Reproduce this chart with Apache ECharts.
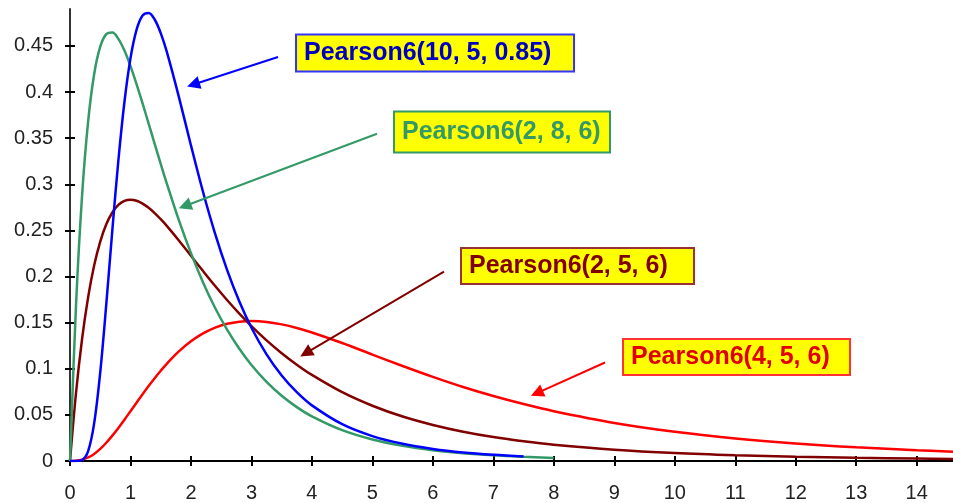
<!DOCTYPE html>
<html><head><meta charset="utf-8">
<script src="https://cdn.jsdelivr.net/npm/echarts@6/dist/echarts.min.js"></script>
<style>html,body{margin:0;padding:0;background:#fff}#c{width:953px;height:503px}</style>
</head><body><div id="c"></div>
<script>
// x positions of the sampled points
const xValues = [0,0.1,0.2,0.3,0.4,0.5,0.6,0.7,0.8,0.9,1,1.1,1.2,1.3,1.4,1.5,1.6,1.8,2,2.2,2.4,2.6,2.8,3,3.25,3.5,3.75,4,4.5,5,5.5,6,6.5,7,7.5,8,9,10,11,12,13,14,14.6];
// Pearson6(10, 5, 0.85) - blue, ends at 7.5
const blueValues = [0,0,0.0011,0.0107,0.0410,0.0962,0.1700,0.2503,0.3259,0.3892,0.4365,0.4673,0.4829,0.4857,0.4786,0.4638,0.4437,0.3947,0.3421,0.2916,0.2462,0.2066,0.1728,0.1445,0.1156,0.0927,0.0746,0.0603,0.0399,0.0270,0.0186,0.0131,0.0093,0.0068,0.0050];
// Pearson6(2, 8, 6) - green, ends at 8
const greenValues = [0,0.1695,0.2882,0.3683,0.4196,0.4491,0.4627,0.4644,0.4576,0.4449,0.4281,0.4086,0.3876,0.3658,0.3438,0.3221,0.3010,0.2611,0.2253,0.1936,0.1659,0.1421,0.1216,0.1040,0.0857,0.0707,0.0584,0.0484,0.0334,0.0233,0.0164,0.0117,0.0084,0.0061,0.0045,0.0033];
// Pearson6(2, 5, 6) - dark red
const darkRedValues = [0,0.0742,0.1325,0.1777,0.2122,0.2379,0.2566,0.2694,0.2776,0.2820,0.2833,0.2821,0.2791,0.2745,0.2688,0.2621,0.2549,0.2391,0.2225,0.2059,0.1897,0.1743,0.1598,0.1463,0.1308,0.1169,0.1044,0.0933,0.0746,0.0599,0.0482,0.0391,0.0318,0.0260,0.0214,0.0177,0.0123,0.0087,0.0063,0.0046,0.0034,0.0026,0.0022];
// Pearson6(4, 5, 6) - red
const redValues = [0,0.0002,0.0013,0.0038,0.0077,0.0131,0.0198,0.0275,0.0359,0.0448,0.0540,0.0632,0.0724,0.0813,0.0898,0.0979,0.1054,0.1188,0.1298,0.1383,0.1446,0.1487,0.1510,0.1517,0.1508,0.1481,0.1442,0.1393,0.1279,0.1154,0.1030,0.0912,0.0802,0.0704,0.0617,0.0540,0.0413,0.0317,0.0245,0.0190,0.0148,0.0117,0.0101];

const xTicks = [0,1,2,3,4,5,6,7,8,9,10,11,12,13,14];
const yTicks = [0,0.05,0.1,0.15,0.2,0.25,0.3,0.35,0.4,0.45];
const seriesNames = ['Pearson6(4, 5, 6)','Pearson6(2, 5, 6)','Pearson6(2, 8, 6)','Pearson6(10, 5, 0.85)'];

const FONT = "'Liberation Sans', Arial, sans-serif";
function pairs(ys){ return ys.map((y,i)=>[xValues[i], y]); }

function makeSeries(name, values, color, textColor, borderColor, arrowFrom, arrowTo, boxCenter, boxSize){
  return {
    name: name, type: 'line', data: pairs(values), showSymbol: false, symbol: 'none',
    smooth: 0.35,
    lineStyle: {color: color, width: 2.5}, itemStyle: {color: color},
    silent: true,
    markLine: {
      silent: true, animation: false,
      symbol: ['none','triangle'], symbolSize: 13,
      lineStyle: {color: color, width: 2, type: 'solid'},
      label: {show: false},
      data: [[{coord: arrowFrom}, {coord: arrowTo}]]
    },
    markPoint: {
      silent: true, animation: false,
      data: [{
        coord: boxCenter, symbol: 'rect', symbolSize: 1,
        itemStyle: {color: 'rgba(0,0,0,0)'},
        label: {show: true, position: 'inside', align: 'left', verticalAlign: 'middle',
          offset: [-boxSize[0]/2 + 2, 0],
          width: boxSize[0] - 16, height: boxSize[1] - 3, lineHeight: boxSize[1] - 3,
          padding: [0, 7, 0, 7],
          backgroundColor: '#ffff00', borderColor: borderColor, borderWidth: 2,
          formatter: name,
          color: textColor, fontSize: 25, fontWeight: 'bold', fontFamily: FONT}
      }]
    }
  };
}

const chart = echarts.init(document.getElementById('c'), null, {renderer: 'canvas'});
const axisFont = {fontSize: 20, color: '#222', fontFamily: FONT};
chart.setOption({
  animation: false,
  backgroundColor: '#ffffff',
  grid: {left: 70, right: 0, top: 9, bottom: 41.3, containLabel: false},
  xAxis: [
    {type: 'value', min: 0, max: 14.6, position: 'bottom',
     axisLine: {show: true, onZero: false, lineStyle: {color: '#000', width: 2}},
     axisTick: {show: true, length: 5, customValues: xTicks, lineStyle: {color: '#000', width: 2}},
     axisLabel: Object.assign({customValues: xTicks, margin: 22}, axisFont),
     splitLine: {show: false}},
    {type: 'value', min: 0, max: 14.6, position: 'bottom',
     axisLine: {show: false, onZero: false},
     axisTick: {show: true, inside: true, length: 5, customValues: xTicks, lineStyle: {color: '#000', width: 2}},
     axisLabel: {show: false}, splitLine: {show: false}}
  ],
  yAxis: [
    {type: 'value', min: 0, max: 0.49, position: 'left',
     axisLine: {show: true, onZero: false, lineStyle: {color: '#333', width: 2}},
     axisTick: {show: true, length: 5, customValues: yTicks, lineStyle: {color: '#000', width: 2}},
     axisLabel: Object.assign({customValues: yTicks, margin: 17}, axisFont),
     splitLine: {show: false}},
    {type: 'value', min: 0, max: 0.49, position: 'left',
     axisLine: {show: false, onZero: false},
     axisTick: {show: true, inside: true, length: 5, customValues: yTicks, lineStyle: {color: '#000', width: 2}},
     axisLabel: {show: false}, splitLine: {show: false}}
  ],
  series: [
    makeSeries(seriesNames[0], redValues, '#ff0000', '#e00000', '#ff3333', [8.846,0.1068], [7.72,0.0735], [11.004,0.1128], [227,37]),
    makeSeries(seriesNames[1], darkRedValues, '#800000', '#800000', '#993333', [6.184,0.2053], [3.90,0.1170], [8.375,0.2113], [233,37]),
    makeSeries(seriesNames[2], greenValues, '#339966', '#339966', '#339966', [5.076,0.3547], [1.90,0.2765], [7.126,0.3567], [216,42]),
    makeSeries(seriesNames[3], blueValues, '#0000ff', '#0000c0', '#3333ff', [3.439,0.4380], [2.04,0.4082], [6.019,0.4424], [278,38])
  ]
});
</script>
</body></html>
